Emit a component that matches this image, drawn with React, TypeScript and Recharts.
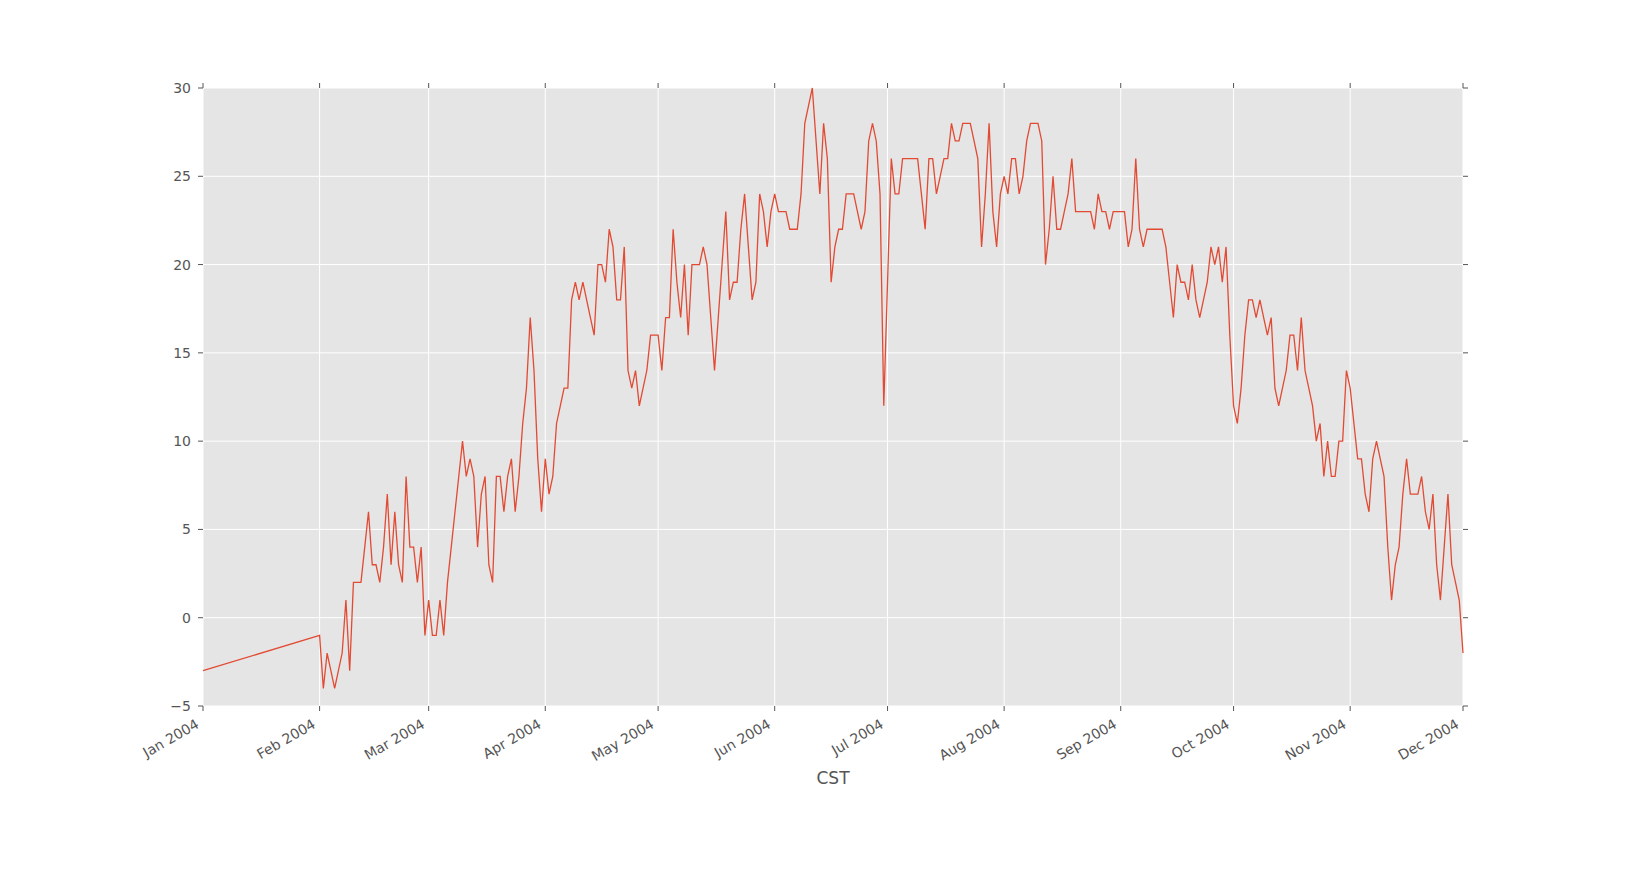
import { LineChart, Line, CartesianGrid, XAxis, YAxis } from "recharts"

const monthNames = ["Jan", "Feb", "Mar", "Apr", "May", "Jun", "Jul", "Aug", "Sep", "Oct", "Nov", "Dec"]

// daily temperatures, 2004 (only Jan 1 is recorded in January)
const janTemps = [-3]
const febTemps = [-1, -4, -2, -3, -4, -3, -2, 1, -3, 2, 2, 2, 4, 6, 3, 3, 2, 4, 7, 3, 6, 3, 2, 8, 4, 4, 2, 4, -1]
const marTemps = [1, -1, -1, 1, -1, 2, 4, 6, 8, 10, 8, 9, 8, 4, 7, 8, 3, 2, 8, 8, 6, 8, 9, 6, 8, 11, 13, 17, 14, 9, 6]
const aprTemps = [9, 7, 8, 11, 12, 13, 13, 18, 19, 18, 19, 18, 17, 16, 20, 20, 19, 22, 21, 18, 18, 21, 14, 13, 14, 12, 13, 14, 16, 16]
const mayTemps = [16, 14, 17, 17, 22, 19, 17, 20, 16, 20, 20, 20, 21, 20, 17, 14, 17, 20, 23, 18, 19, 19, 22, 24, 21, 18, 19, 24, 23, 21, 23]
const junTemps = [24, 23, 23, 23, 22, 22, 22, 24, 28, 29, 30, 27, 24, 28, 26, 19, 21, 22, 22, 24, 24, 24, 23, 22, 23, 27, 28, 27, 24, 12]
const julTemps = [19, 26, 24, 24, 26, 26, 26, 26, 26, 24, 22, 26, 26, 24, 25, 26, 26, 28, 27, 27, 28, 28, 28, 27, 26, 21, 24, 28, 23, 21, 24]
const augTemps = [25, 24, 26, 26, 24, 25, 27, 28, 28, 28, 27, 20, 22, 25, 22, 22, 23, 24, 26, 23, 23, 23, 23, 23, 22, 24, 23, 23, 22, 23, 23]
const sepTemps = [23, 23, 21, 22, 26, 22, 21, 22, 22, 22, 22, 22, 21, 19, 17, 20, 19, 19, 18, 20, 18, 17, 18, 19, 21, 20, 21, 19, 21, 16]
const octTemps = [12, 11, 13, 16, 18, 18, 17, 18, 17, 16, 17, 13, 12, 13, 14, 16, 16, 14, 17, 14, 13, 12, 10, 11, 8, 10, 8, 8, 10, 10, 14]
const novTemps = [13, 11, 9, 9, 7, 6, 9, 10, 9, 8, 4, 1, 3, 4, 7, 9, 7, 7, 7, 8, 6, 5, 7, 3, 1, 4, 7, 3, 2, 1]
const decTemps = [-2]

const monthTemps = [janTemps, febTemps, marTemps, aprTemps, mayTemps, junTemps, julTemps, augTemps, sepTemps, octTemps, novTemps, decTemps]

const yTicks = [-5, 0, 5, 10, 15, 20, 25, 30]
const monthTicks = monthNames.map((_, m) => Date.UTC(2004, m, 1))

const data = monthTemps.flatMap((temps, m) =>
  temps.map((temp, i) => ({ time: Date.UTC(2004, m, i + 1), temp }))
)

const xDomain = [monthTicks[0], monthTicks[11]]

const formatMonth = (t: number) => `${monthNames[new Date(t).getUTCMonth()]} 2004`
const formatTemp = (v: number) => (v < 0 ? `\u2212${Math.abs(v)}` : `${v}`)

function MonthTick({ x, y, payload }: any) {
  const ax = x - 3
  const ay = y + 14
  return (
    <text
      x={ax}
      y={ay}
      transform={`rotate(-30, ${ax}, ${ay})`}
      textAnchor="end"
      fill="#555555"
      fontSize={14}
      fontFamily="DejaVu Sans"
    >
      {formatMonth(payload.value)}
    </text>
  )
}

function App() {
  return (
    <div style={{ width: 1626, height: 882 }}>
      <style>{"body{margin:0}"}</style>
      <LineChart width={1626} height={882} data={data} margin={{ top: 87, right: 162, bottom: 0, left: 0 }}>
        <CartesianGrid fill="#E5E5E5" stroke="#FFFFFF" strokeWidth={1} />
        <XAxis
          dataKey="time"
          type="number"
          domain={xDomain}
          ticks={monthTicks}
          height={176}
          axisLine={false}
          tickLine={{ stroke: "#555555" }}
          tickSize={5}
          tick={<MonthTick />}
          label={{ value: "CST", position: "insideTop", offset: 66, fill: "#555555", fontSize: 17, fontFamily: "DejaVu Sans" }}
        />
        <XAxis
          xAxisId="top"
          orientation="top"
          dataKey="time"
          type="number"
          domain={xDomain}
          ticks={monthTicks}
          height={1}
          axisLine={false}
          tickLine={{ stroke: "#555555" }}
          tickSize={5}
          tick={() => <g />}
        />
        <YAxis
          type="number"
          domain={[-5, 30]}
          ticks={yTicks}
          width={203}
          axisLine={false}
          tickLine={{ stroke: "#555555" }}
          tickSize={5}
          tickMargin={7}
          tickFormatter={formatTemp}
          tick={{ fill: "#555555", fontSize: 14, fontFamily: "DejaVu Sans" }}
        />
        <YAxis
          yAxisId="right"
          orientation="right"
          dataKey="temp"
          type="number"
          domain={[-5, 30]}
          allowDataOverflow
          ticks={yTicks}
          width={1}
          axisLine={false}
          tickLine={{ stroke: "#555555" }}
          tickSize={5}
          tick={() => <g />}
        />
        <Line
          type="linear"
          dataKey="temp"
          stroke="#E24A33"
          strokeWidth={1.3}
          dot={false}
          isAnimationActive={false}
        />
      </LineChart>
    </div>
  )
}

export default App
